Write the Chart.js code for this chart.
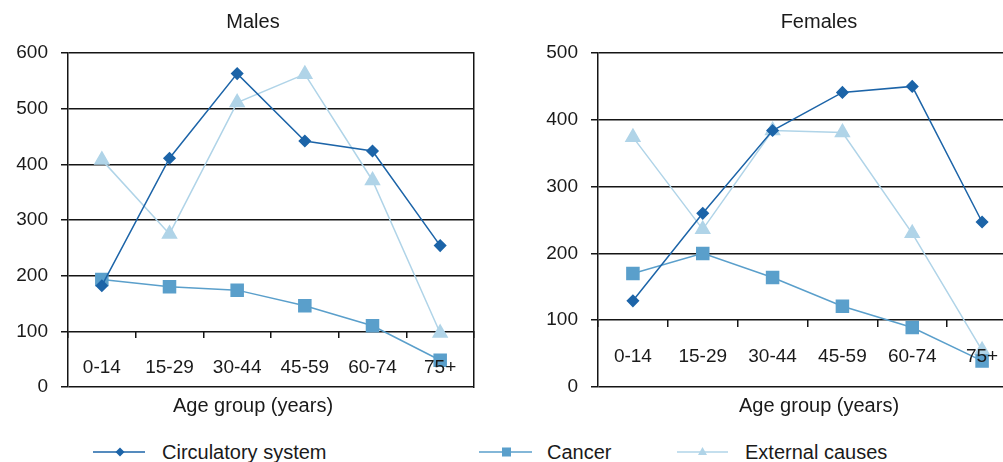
<!DOCTYPE html>
<html>
<head>
<meta charset="utf-8">
<script src="https://cdn.jsdelivr.net/npm/chart.js@4/dist/chart.umd.min.js"></script>
<style>
  body { margin: 0; width: 1003px; height: 462px; overflow: hidden; background: #fff; position: relative; font-family: "Liberation Sans", Arial, sans-serif; }
  .box { position: absolute; top: 0; }
  .leg { position: absolute; font-size: 20px; line-height: 20px; color: #1a1a1a; white-space: nowrap; }
  .leg svg { position: absolute; }
</style>
</head>
<body>
<div class="box" style="left:0"><canvas id="males" width="506" height="430"></canvas></div>
<div class="box" style="left:506px"><canvas id="females" width="626" height="430"></canvas></div>

<div class="leg" style="left:93px;top:445px">
  <svg width="54" height="14" style="left:0;top:0"><line x1="0" y1="7" x2="52" y2="7" stroke="#1c64a8" stroke-width="1.5"/><polygon points="27,2.5 31.5,7 27,11.5 22.5,7" fill="#1c64a8"/></svg>
</div>
<span class="leg" style="left:162px;top:442px">Circulatory system</span>

<div class="leg" style="left:479px;top:445px">
  <svg width="54" height="14" style="left:0;top:0"><line x1="0" y1="7" x2="53" y2="7" stroke="#5a9fcb" stroke-width="1.5"/><rect x="23" y="2.5" width="9" height="9" fill="#5a9fcb"/></svg>
</div>
<span class="leg" style="left:547px;top:442px">Cancer</span>

<div class="leg" style="left:677px;top:445px">
  <svg width="54" height="14" style="left:0;top:0"><line x1="0" y1="7" x2="51" y2="7" stroke="#b0d4e8" stroke-width="1.5"/><polygon points="25.5,2 30,10 21,10" fill="#b0d4e8"/></svg>
</div>
<span class="leg" style="left:745px;top:442px">External causes</span>

<script>
// age groups on the x axis
const ageGroups = ['0-14', '15-29', '30-44', '45-59', '60-74', '75+'];

// males
const malesCirculatory = [182, 411, 563, 442, 424, 254];
const malesCancer = [193, 180, 174, 146, 110, 48];
const malesExternal = [408, 275, 511, 562, 371, 97];

// females
const femalesCirculatory = [129, 260, 384, 441, 450, 247];
const femalesCancer = [170, 200, 164, 121, 89, 39];
const femalesExternal = [374, 236, 384, 381, 230, 55];

const seriesNames = ['Circulatory system', 'Cancer', 'External causes'];

const FONT = '"Liberation Sans", Arial, sans-serif';
const TEXT = '#1a1a1a';
const LINE = '#151515';

let makeDatasets = (circ, canc, ext) => [
    { label: seriesNames[0], data: circ, borderColor: '#1c64a8', backgroundColor: '#1c64a8',
      pointStyle: 'rectRot', pointRadius: 5.5, borderWidth: 1.5, yAxisID: 'y' },
    { label: seriesNames[1], data: canc, borderColor: '#5a9fcb', backgroundColor: '#5a9fcb',
      pointStyle: 'rect', pointRadius: 8.5, borderWidth: 1.5, yAxisID: 'y' },
    { label: seriesNames[2], data: ext, borderColor: '#b0d4e8', backgroundColor: '#b0d4e8',
      pointStyle: 'triangle', pointRadius: 8, borderWidth: 1.5, yAxisID: 'y' }
];

let makeChart = (id, title, circ, canc, ext, yMax, leftW, rightW) => {
    let ctx = document.querySelector(id).getContext('2d');
    return new Chart(ctx, {
        type: 'line',
        data: { labels: ageGroups, datasets: makeDatasets(circ, canc, ext) },
        options: {
            responsive: false,
            animation: false,
            layout: { padding: 0 },
            elements: { line: { tension: 0 }, point: { borderWidth: 0 } },
            scales: {
                y: {
                    position: 'left',
                    min: 0, max: yMax,
                    ticks: { stepSize: 100, padding: 13, color: TEXT, font: { family: FONT, size: 19 } },
                    grid: { color: LINE, lineWidth: 1.5, tickLength: 7 },
                    border: { color: LINE, width: 1.5 },
                    afterFit: s => { s.width = leftW; }
                },
                x: {
                    type: 'category',
                    position: { y: 100 },
                    offset: true,
                    // labels drawn over the markers, like the original
                    ticks: { z: 1, padding: 18, color: TEXT, font: { family: FONT, size: 19 } },
                    grid: { offset: true, drawOnChartArea: false, color: LINE, lineWidth: 1.5, tickLength: 7 },
                    border: { display: false }
                },
                yRight: {
                    position: 'right',
                    min: 0, max: yMax,
                    ticks: { display: false },
                    grid: { drawOnChartArea: false, drawTicks: false },
                    border: { color: LINE, width: 1.5 },
                    afterFit: s => { s.width = rightW; }
                }
            },
            plugins: {
                legend: { display: false },
                tooltip: { enabled: false },
                title: {
                    display: true, text: title, color: TEXT,
                    font: { family: FONT, size: 20, weight: 'normal' },
                    padding: { top: 10, bottom: 19 }
                },
                subtitle: {
                    display: true, position: 'bottom', text: 'Age group (years)', color: TEXT,
                    font: { family: FONT, size: 20, weight: 'normal' },
                    padding: { top: 7, bottom: 12 }
                }
            }
        }
    });
};

makeChart('#males', 'Males', malesCirculatory, malesCancer, malesExternal, 600, 68, 32);
makeChart('#females', 'Females', femalesCirculatory, femalesCancer, femalesExternal, 500, 92, 115);
</script>
</body>
</html>
